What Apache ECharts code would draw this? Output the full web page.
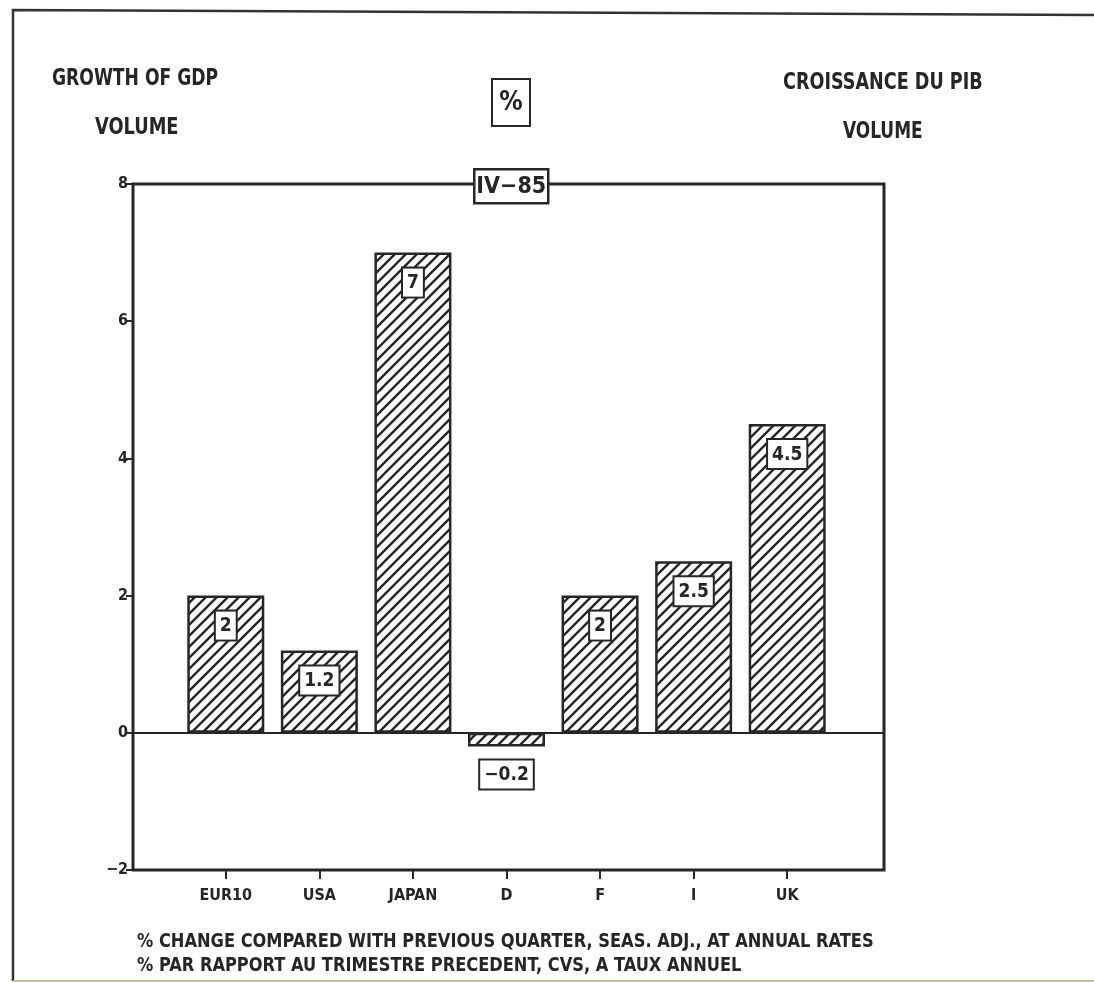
<!DOCTYPE html>
<html><head><meta charset="utf-8">
<script src="https://cdn.jsdelivr.net/npm/echarts@6/dist/echarts.min.js"></script>
<style>html,body{margin:0;padding:0;background:#fff}#c{width:1094px;height:982px}</style>
</head><body><div id="c"></div>
<script>
const categories = ['EUR10', 'USA', 'JAPAN', 'D', 'F', 'I', 'UK'];
const values = [2, 1.2, 7, -0.2, 2, 2.5, 4.5];
const valueLabels = ['2', '1.2', '7', '\u22120.2', '2', '2.5', '4.5'];
const yMin = -2, yMax = 8, yStep = 2;
const titleLeft = ['GROWTH OF GDP', 'VOLUME'];
const titleRight = ['CROISSANCE DU PIB', 'VOLUME'];
const unitText = '%';
const periodText = 'IV\u221285';
const notes = ['% CHANGE COMPARED WITH PREVIOUS QUARTER, SEAS. ADJ., AT ANNUAL RATES',
               '% PAR RAPPORT AU TRIMESTRE PRECEDENT, CVS, A TAUX ANNUEL'];

const FONT = '"Liberation Sans Narrow", "DejaVu Sans Condensed", "Roboto", sans-serif';
const INK = '#262626';

function hatch() {
  const s = 11, c = document.createElement('canvas');
  c.width = s; c.height = s;
  const g = c.getContext('2d');
  g.fillStyle = '#fff'; g.fillRect(0, 0, s, s);
  g.strokeStyle = INK; g.lineWidth = 2.4;
  g.beginPath();
  g.moveTo(-s, s * 2); g.lineTo(s * 2, -s);
  g.moveTo(-s, s); g.lineTo(s, -s);
  g.moveTo(0, s * 2); g.lineTo(s * 2, 0);
  g.stroke();
  return c;
}

const chart = echarts.init(document.getElementById('c'), null, {renderer: 'canvas'});

const barData = values.map((v, i) => {
  const d = {value: v};
  if (v < 0) d.label = {position: 'bottom', distance: 14};
  return d;
});

function txt(text, x, y, size, sx) {
  return {type: 'text', x: x, y: y, scaleX: sx || 1, style: {text: text, font: 'bold ' + size + 'px ' + FONT, fill: INK, textAlign: 'left'}};
}

chart.setOption({
  animation: false,
  backgroundColor: '#fff',
  grid: [
    {left: 133, right: 210, top: 184, bottom: 112, show: true, borderColor: INK, borderWidth: 3, backgroundColor: 'transparent'},
    {left: 179, right: 260, top: 184, bottom: 112}
  ],
  xAxis: [
    {gridIndex: 0, type: 'value', min: 0, max: 1, axisLabel: {show: false}, axisTick: {show: false}, splitLine: {show: false},
     axisLine: {show: true, onZero: true, lineStyle: {color: INK, width: 2}}},
    {gridIndex: 1, type: 'category', data: categories, axisLine: {show: false, onZero: false},
     axisTick: {show: true, alignWithLabel: true, length: 9, lineStyle: {color: INK, width: 2}},
     axisLabel: {margin: 18, fontFamily: FONT, fontWeight: 'bold', fontSize: 16, color: INK}}
  ],
  yAxis: [
    {gridIndex: 0, type: 'value', min: yMin, max: yMax, interval: yStep,
     axisLine: {show: false}, splitLine: {show: false},
     axisTick: {show: true, length: 7, lineStyle: {color: INK, width: 2}},
     axisLabel: {margin: 5, fontFamily: FONT, fontWeight: 'bold', fontSize: 16, color: INK,
                 formatter: v => String(v).replace('-', '\u2212')}},
    {gridIndex: 1, type: 'value', min: yMin, max: yMax, interval: yStep, show: false, splitLine: {show: false}}
  ],
  series: [{
    type: 'bar', xAxisIndex: 1, yAxisIndex: 1, data: barData, barWidth: 77,
    itemStyle: {color: {image: hatch(), repeat: 'repeat'}, borderColor: INK, borderWidth: 2.5},
    label: {show: true, position: 'insideTop', distance: 16,
      formatter: p => valueLabels[p.dataIndex],
      fontFamily: FONT, fontWeight: 'bold', fontSize: 19, color: INK, lineHeight: 23,
      backgroundColor: '#fff', borderColor: INK, borderWidth: 2, padding: [3, 4, 2, 4]}
  }],
  graphic: [
    {type: 'polyline', shape: {points: [[13, 981], [13, 10], [1094, 15]]}, style: {stroke: '#333', lineWidth: 2.5, fill: null}},
    {type: 'line', shape: {x1: 13, y1: 981, x2: 1094, y2: 981}, style: {stroke: '#c9bd93', lineWidth: 2}},
    txt(titleLeft[0], 52, 68, 23, 0.83),
    txt(titleLeft[1], 95, 117, 23, 0.86),
    txt(titleRight[0], 783, 72, 23, 0.85),
    txt(titleRight[1], 843, 121, 23, 0.82),
    {type: 'group', left: 491, top: 78, children: [
      {type: 'rect', shape: {x: 0, y: 0, width: 38, height: 47}, style: {fill: '#fff', stroke: INK, lineWidth: 2}},
      {type: 'text', x: 19, y: 24, style: {text: unitText, font: 'bold 26px ' + FONT, fill: INK, textAlign: 'center', textVerticalAlign: 'middle'}}
    ]},
    {type: 'group', left: 473, top: 168, z: 100, children: [
      {type: 'rect', shape: {x: 0, y: 0, width: 74, height: 34}, style: {fill: '#fff', stroke: INK, lineWidth: 2.5}},
      {type: 'text', x: 37, y: 18, style: {text: periodText, font: 'bold 23px ' + FONT, fill: INK, textAlign: 'center', textVerticalAlign: 'middle'}}
    ]},
    txt(notes[0], 137, 933, 19, 0.95),
    txt(notes[1], 137, 957, 19, 0.95)
  ]
});
</script>
</body></html>
